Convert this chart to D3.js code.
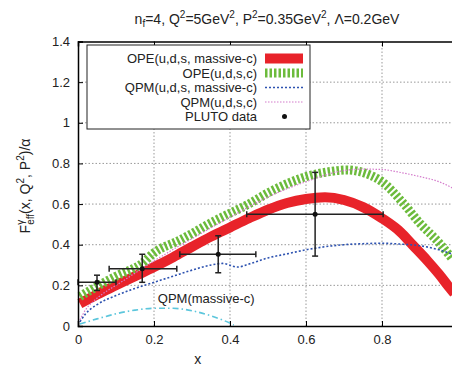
<!DOCTYPE html>
<meta charset="utf-8">
<style>
body { margin: 0; background: #fff; }
svg { font-family: 'Liberation Sans', Arial, sans-serif; display: block; }
.grid line { stroke: #999; stroke-dasharray: 1.5,2; stroke-width: 1; }
.axis path { stroke: #000; stroke-width: 1.5; }
.axis line { stroke: #000; stroke-width: 1; }
.axis text { font-size: 13px; fill: #222; }
</style>
<body>
<script src="https://d3js.org/d3.v7.min.js"></script>
<script>
// curves, [x, F/alpha]
var opeMassive = [[0.005,0.11],[0.05,0.155],[0.1,0.2],[0.15,0.245],[0.2,0.29],[0.25,0.338],[0.3,0.39],[0.35,0.44],[0.4,0.485],[0.45,0.53],[0.5,0.572],[0.55,0.605],[0.6,0.625],[0.65,0.633],[0.7,0.62],[0.75,0.585],[0.8,0.53],[0.85,0.46],[0.88,0.4],[0.92,0.32],[0.95,0.255],[0.975,0.195],[0.99,0.16]]
var opeAll = [[0.005,0.145],[0.05,0.195],[0.1,0.245],[0.17,0.31],[0.2,0.36],[0.268,0.423],[0.3,0.455],[0.347,0.505],[0.4,0.555],[0.444,0.595],[0.505,0.66],[0.55,0.7],[0.6,0.735],[0.663,0.76],[0.707,0.768],[0.75,0.755],[0.8,0.71],[0.856,0.604],[0.9,0.505],[0.95,0.41],[0.985,0.33]]
var qpmMassive = [[0.005,0.02],[0.02,0.06],[0.05,0.105],[0.1,0.15],[0.15,0.185],[0.2,0.215],[0.25,0.245],[0.3,0.275],[0.35,0.3],[0.38,0.308],[0.42,0.29],[0.45,0.305],[0.5,0.335],[0.55,0.355],[0.6,0.375],[0.65,0.39],[0.7,0.4],[0.75,0.405],[0.8,0.407],[0.85,0.403],[0.9,0.395],[0.95,0.375],[0.99,0.35]]
var qpmAll = [[0.005,0.03],[0.02,0.08],[0.04,0.12],[0.07,0.165],[0.1,0.2],[0.15,0.26],[0.2,0.32],[0.3,0.43],[0.4,0.535],[0.5,0.635],[0.6,0.71],[0.7,0.765],[0.75,0.772],[0.8,0.77],[0.85,0.755],[0.9,0.735],[0.95,0.71],[0.99,0.675]]
var qpmCharm = [[0.005,0.01],[0.05,0.035],[0.1,0.06],[0.15,0.078],[0.2,0.087],[0.25,0.087],[0.3,0.075],[0.35,0.05],[0.38,0.03],[0.41,0.005]]

// PLUTO data: x, y, xlo, xhi, ylo, yhi
var pluto = [
  [0.05, 0.215, 0.0, 0.1, 0.175, 0.25],
  [0.169, 0.282, 0.082, 0.26, 0.215, 0.353],
  [0.369, 0.353, 0.268, 0.468, 0.262, 0.444],
  [0.624, 0.55, 0.444, 0.803, 0.344, 0.756]
]

var xTicks = [0, 0.2, 0.4, 0.6, 0.8]
var yTicks = [0, 0.2, 0.4, 0.6, 0.8, 1, 1.2, 1.4]
var legendNames = ['OPE(u,d,s, massive-c)', 'OPE(u,d,s,c)', 'QPM(u,d,s, massive-c)', 'QPM(u,d,s,c)', 'PLUTO data']

var width = 452, height = 368
var x = d3.scaleLinear().domain([0, 1]).range([78, 458])
var y = d3.scaleLinear().domain([0, 1.4]).range([326, 41.5])

var svg = d3.select('body').append('svg')
    .attr('width', width)
    .attr('height', height)

// grid
var grid = svg.append('g').attr('class', 'grid')
grid.selectAll('.gx').data(xTicks.slice(1)).enter().append('line')
    .attr('x1', d => x(d)).attr('x2', d => x(d))
    .attr('y1', y(0)).attr('y2', y(1.4))
grid.selectAll('.gy').data(yTicks.slice(1, -1)).enter().append('line')
    .attr('x1', x(0)).attr('x2', x(1))
    .attr('y1', d => y(d)).attr('y2', d => y(d))

var line = d3.line().x(d => x(d[0])).y(d => y(d[1])).curve(d3.curveMonotoneX)

var styles = [
  [opeMassive, '#e8232a', 10, null],
  [opeAll, '#6cbb3c', 9, '2.5,2'],
  [qpmMassive, '#2d52b0', 1.6, '2,2'],
  [qpmAll, '#d47ccc', 1.2, '1.5,1.5'],
  [qpmCharm, '#5cc6dc', 1.6, '6,3,1.5,3']
]
styles.forEach(function(s) {
  svg.append('path')
      .datum(s[0])
      .attr('d', line)
      .attr('fill', 'none')
      .attr('stroke', s[1])
      .attr('stroke-width', s[2])
      .attr('stroke-dasharray', s[3])
})

svg.append('text')
    .attr('x', x(0.21)).attr('y', y(0.115))
    .attr('font-size', 13).attr('fill', '#222')
    .text('QPM(massive-c)')

// error bars
var eb = svg.append('g').attr('stroke', '#222').attr('stroke-width', 1.5)
pluto.forEach(function(p) {
  eb.append('line').attr('x1', x(p[2])).attr('x2', x(p[3])).attr('y1', y(p[1])).attr('y2', y(p[1]))
  eb.append('line').attr('x1', x(p[0])).attr('x2', x(p[0])).attr('y1', y(p[4])).attr('y2', y(p[5]))
  ;[p[2], p[3]].forEach(v => eb.append('line').attr('x1', x(v)).attr('x2', x(v)).attr('y1', y(p[1]) - 3).attr('y2', y(p[1]) + 3))
  ;[p[4], p[5]].forEach(v => eb.append('line').attr('x1', x(p[0]) - 3).attr('x2', x(p[0]) + 3).attr('y1', y(v)).attr('y2', y(v)))
  svg.append('circle').attr('cx', x(p[0])).attr('cy', y(p[1])).attr('r', 2.5).attr('fill', '#111')
})

// axes
svg.append('g').attr('class', 'axis')
    .attr('transform', 'translate(0,' + y(0) + ')')
    .call(d3.axisBottom(x).tickValues(xTicks).tickSize(-5).tickPadding(9).tickFormat(d3.format('')))
svg.append('g').attr('class', 'axis')
    .attr('transform', 'translate(0,' + y(1.4) + ')')
    .call(d3.axisTop(x).tickValues(xTicks).tickSize(-5).tickFormat(''))
svg.append('g').attr('class', 'axis')
    .attr('transform', 'translate(' + x(0) + ',0)')
    .call(d3.axisLeft(y).tickValues(yTicks).tickSize(-5).tickPadding(8).tickFormat(d3.format('')))
svg.selectAll('.axis .domain').attr('stroke-width', 1.5)

// legend
var lg = svg.append('g')
lg.append('rect').attr('x', 87).attr('y', 45).attr('width', 223).attr('height', 84)
    .attr('fill', '#fff').attr('stroke', '#222').attr('stroke-width', 1)
legendNames.forEach(function(name, i) {
  var cy = 58.5 + i * 14.5
  lg.append('text').attr('x', 257).attr('y', cy).attr('dy', '0.35em')
      .attr('text-anchor', 'end').attr('font-size', 13).attr('fill', '#222').text(name)
  if (i < 4) {
    lg.append('line').attr('x1', 265).attr('x2', 303).attr('y1', cy).attr('y2', cy)
        .attr('stroke', styles[i][1]).attr('stroke-width', styles[i][2])
        .attr('stroke-dasharray', styles[i][3])
  } else {
    lg.append('circle').attr('cx', 284.5).attr('cy', cy).attr('r', 2.5).attr('fill', '#111')
  }
})

// title
var t = svg.append('text').attr('x', 267).attr('y', 24).attr('text-anchor', 'middle')
    .attr('font-size', 14).attr('fill', '#222')
t.append('tspan').text('n')
t.append('tspan').attr('font-size', 10).attr('dy', 3).text('f')
t.append('tspan').attr('dy', -3).text('=4, Q')
t.append('tspan').attr('font-size', 10).attr('dy', -6).text('2')
t.append('tspan').attr('dy', 6).text('=5GeV')
t.append('tspan').attr('font-size', 10).attr('dy', -6).text('2')
t.append('tspan').attr('dy', 6).text(', P')
t.append('tspan').attr('font-size', 10).attr('dy', -6).text('2')
t.append('tspan').attr('dy', 6).text('=0.35GeV')
t.append('tspan').attr('font-size', 10).attr('dy', -6).text('2')
t.append('tspan').attr('dy', 6).text(', \u039B=0.2GeV')

// axis labels
svg.append('text').attr('x', x(0.315)).attr('y', 364).attr('text-anchor', 'middle')
    .attr('font-size', 14).attr('fill', '#222').text('x')

var yl = svg.append('text').attr('transform', 'translate(30,186) rotate(-90)')
    .attr('text-anchor', 'middle').attr('font-size', 14).attr('fill', '#222')
yl.append('tspan').text('F')
yl.append('tspan').attr('font-size', 10).attr('dy', -6).text('\u03B3')
yl.append('tspan').attr('font-size', 10).attr('dx', -5).attr('dy', 10).text('eff')
yl.append('tspan').attr('dy', -4).text('(x, Q')
yl.append('tspan').attr('font-size', 10).attr('dy', -6).text('2')
yl.append('tspan').attr('dy', 6).text(', P')
yl.append('tspan').attr('font-size', 10).attr('dy', -6).text('2')
yl.append('tspan').attr('dy', 6).text(')/\u03B1')
</script>
</body>
